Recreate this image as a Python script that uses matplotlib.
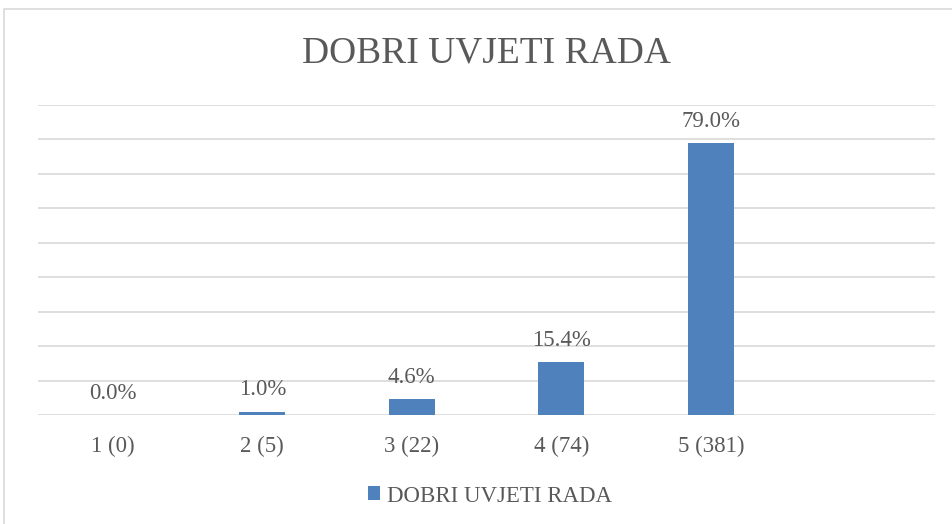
#!/usr/bin/env python3
"""Bar chart: DOBRI UVJETI RADA (share of answers per grade)."""

import matplotlib.pyplot as plt
from matplotlib.patches import Rectangle
from matplotlib.ticker import MultipleLocator

categories = ['1 (0)', '2 (5)', '3 (22)', '4 (74)', '5 (381)', '']
shares = [0.0, 1.0, 4.6, 15.4, 79.0, None]
series_name = 'DOBRI UVJETI RADA'

BAR_COLOR = '#4F81BD'
TEXT_COLOR = '#595959'
GRID_COLOR = '#D9D9D9'

plt.rcParams['font.family'] = ['Liberation Serif', 'DejaVu Serif']


def main():
    fig = plt.figure(figsize=(9.52, 5.24), dpi=100)
    ax = fig.add_axes([38 / 952, 1 - 415 / 524, (935 - 38) / 952, (415 - 105) / 524])

    xs = list(range(len(categories)))
    vals = [v if v is not None else 0 for v in shares]
    bars = ax.bar(xs, vals, width=0.31, color=BAR_COLOR, zorder=3, label=series_name)

    for x, v in zip(xs, shares):
        if v is None:
            continue
        ax.annotate(f'{v:.1f}%', (x, v), xytext=(0, 8), textcoords='offset points',
                    ha='center', va='bottom', fontsize=16.5, color=TEXT_COLOR)

    ax.set_xlim(-0.5, len(categories) - 0.5)
    ax.set_ylim(0, 90)
    ax.yaxis.set_major_locator(MultipleLocator(10))
    ax.set_yticklabels([])
    ax.tick_params(axis='y', length=0)
    ax.tick_params(axis='x', length=0, pad=15, labelsize=16.5, labelcolor=TEXT_COLOR)
    ax.set_xticks(xs)
    ax.set_xticklabels(categories)
    ax.grid(axis='y', color=GRID_COLOR, linewidth=1.2, zorder=0)
    for s in ax.spines.values():
        s.set_visible(False)

    fig.text(486 / 952, 1 - 53 / 524, series_name, ha='center', va='center',
             fontsize=27, color=TEXT_COLOR)

    fig.legend(handles=[bars], labels=[series_name], loc='center',
               bbox_to_anchor=(490 / 952, 1 - 496 / 524), frameon=False,
               fontsize=16.5, labelcolor=TEXT_COLOR, handlelength=0.55,
               handleheight=0.55, handletextpad=0.3)

    # chart frame
    fig.patches.append(Rectangle((4 / 952, -0.01), 1.0, 1 - 9 / 524 + 0.01,
                                 transform=fig.transFigure, fill=False,
                                 edgecolor=GRID_COLOR, linewidth=1.2))

    fig.savefig('out.png', dpi=100)


if __name__ == '__main__':
    main()
